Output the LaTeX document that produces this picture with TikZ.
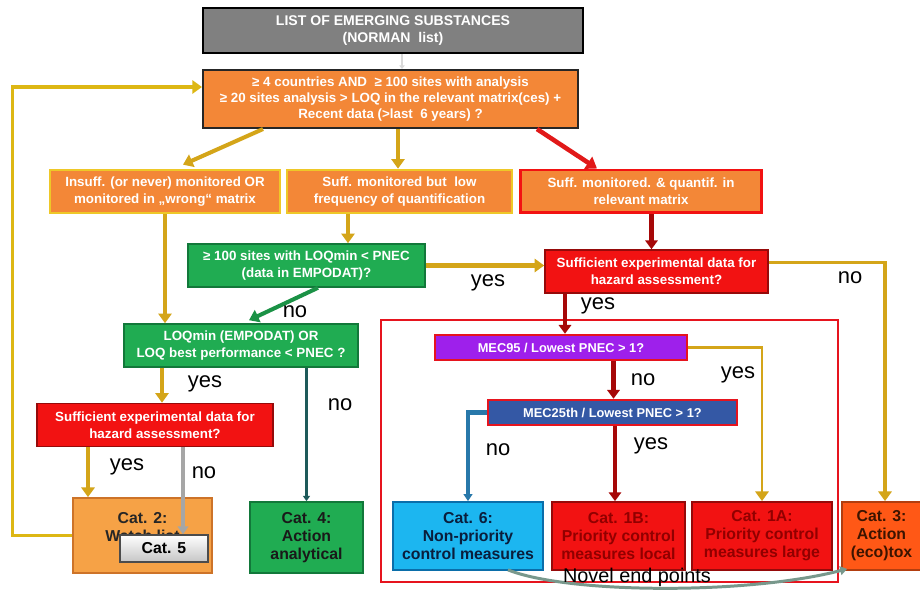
\documentclass[tikz,border=0pt]{standalone}
\usepackage{fontspec}
\setmainfont{Liberation Sans}
\usetikzlibrary{arrows.meta,calc}

\definecolor{boxgray}{RGB}{128,128,128}
\definecolor{orng}{RGB}{243,135,55}
\definecolor{goldline}{RGB}{212,165,25}
\definecolor{goldedge}{RGB}{238,200,40}
\definecolor{brightred}{RGB}{242,18,18}
\definecolor{deepred}{RGB}{150,10,10}
\definecolor{arrowred}{RGB}{225,25,25}
\definecolor{leafgreen}{RGB}{32,172,82}
\definecolor{edgegreen}{RGB}{18,120,58}
\definecolor{purplebox}{RGB}{158,32,235}
\definecolor{slatebox}{RGB}{52,88,165}
\definecolor{skycyan}{RGB}{28,182,240}
\definecolor{cyanedge}{RGB}{10,110,170}
\definecolor{catorange}{RGB}{246,162,70}
\definecolor{catorangeedge}{RGB}{205,115,40}
\definecolor{hotorange}{RGB}{255,88,22}
\definecolor{arrowteal}{RGB}{30,90,90}
\definecolor{pipeblue}{RGB}{40,120,170}
\definecolor{novelgreen}{RGB}{120,152,140}
\definecolor{framered}{RGB}{230,20,30}
\definecolor{catredtext}{RGB}{145,0,0}

\tikzset{
  box/.style={draw, rectangle, inner sep=1pt, align=center, text=white,
    font=\fontsize{7.6}{9.6}\selectfont\bfseries},
  catbox/.style={draw, rectangle, inner sep=1pt, align=center,
    font=\fontsize{9}{10.2}\selectfont\bfseries},
  lbl/.style={font=\fontsize{12.5}{14}\selectfont, text=black, inner sep=0pt},
  goldarrow/.style={draw=goldline, line width=2.3pt,
    -{Triangle[width=7.5pt,length=5.5pt]}},
  redarrow/.style={draw=arrowred, line width=2.6pt,
    -{Triangle[width=8pt,length=6pt]}},
  darkredarrow/.style={draw=deepred!85!red, line width=2.6pt,
    -{Triangle[width=7pt,length=5pt]}},
  greenarrow/.style={draw=leafgreen!85!black, line width=2.3pt,
    -{Triangle[width=7.5pt,length=5.5pt]}},
  tealarrow/.style={draw=arrowteal, line width=1.6pt,
    -{Triangle[width=4pt,length=3pt]}},
  bluearrow/.style={draw=pipeblue, line width=2.3pt,
    -{Triangle[width=5pt,length=4pt]}},
  silverarrow/.style={draw=gray!70, line width=2.8pt,
    -{Triangle[width=6pt,length=4.5pt]}},
  faintarrow/.style={draw=gray!30, line width=1.6pt,
    -{Triangle[width=3pt,length=2pt]}},
}

\begin{document}
\begin{tikzpicture}[x=0.02cm,y=-0.02cm]
\useasboundingbox (0,0) rectangle (920,590);
\clip (0,0) rectangle (920,590);
\fill[white] (0,0) rectangle (920,590);

% grouping frame for the risk-ratio branch
\draw[framered, line width=1.4pt] (381,320) rectangle (838,582);

% question boxes
\node[box, fill=boxgray, draw=black, line width=1.4pt, minimum width=7.6cm, minimum height=0.9cm,
  font=\fontsize{8}{9.6}\selectfont\bfseries] (top) at (393,30.5)
  {LIST OF EMERGING SUBSTANCES\\(NORMAN\ \ list)};
\node[box, fill=orng, draw=black!85, line width=1.2pt, minimum width=7.5cm, minimum height=1.16cm,
  font=\fontsize{7.6}{9}\selectfont\bfseries] (q1) at (390.5,99)
  {≥ 4 countries AND\ \ ≥ 100 sites with analysis\\
   ≥ 20 sites analysis > LOQ in the relevant matrix(ces) +\\
   Recent data (>last\ \ 6 years) ?};
\node[box, fill=orng, draw=goldedge, line width=1.5pt, minimum width=4.6cm, minimum height=0.86cm]
  (insuff) at (165,191.5) {Insuff. (or never) monitored OR\\monitored in „wrong“ matrix};
\node[box, fill=orng, draw=goldedge, line width=1.5pt, minimum width=4.5cm, minimum height=0.86cm]
  (low) at (399.5,191.5) {Suff. monitored but\ \ low\\frequency of quantification};
\node[box, fill=orng, draw=brightred, line width=1.7pt, minimum width=4.84cm, minimum height=0.86cm]
  (quant) at (641,191.5) {Suff. monitored. \& quantif. in\\relevant matrix};
\node[box, fill=leafgreen, draw=edgegreen, line width=0.9pt, minimum width=4.74cm, minimum height=0.86cm]
  (sites) at (306.5,265.5) {≥ 100 sites with LOQmin < PNEC\\(data in EMPODAT)?};
\node[box, fill=brightred, draw=deepred, line width=0.9pt, minimum width=4.46cm, minimum height=0.86cm]
  (sufR) at (656.5,271.5) {Sufficient experimental data for\\hazard assessment?};
\node[box, fill=leafgreen, draw=edgegreen, line width=0.9pt, minimum width=4.68cm, minimum height=0.86cm]
  (loq) at (241,345.5) {LOQmin (EMPODAT) OR\\LOQ best performance < PNEC ?};
\node[box, fill=purplebox, draw=framered, line width=1.4pt, minimum width=5.04cm, minimum height=0.5cm,
  font=\fontsize{7.3}{9}\selectfont\bfseries] (mec95) at (561,347.5) {MEC95 / Lowest PNEC > 1?};
\node[box, fill=slatebox, draw=framered, line width=1.4pt, minimum width=4.98cm, minimum height=0.5cm,
  font=\fontsize{7.3}{9}\selectfont\bfseries] (mec25) at (612.5,412.5) {MEC25th / Lowest PNEC > 1?};
\node[box, fill=brightred, draw=deepred, line width=0.9pt, minimum width=4.72cm, minimum height=0.86cm]
  (sufL) at (155,425) {Sufficient experimental data for\\hazard assessment?};

% category boxes
\node[catbox, fill=catorange, draw=catorangeedge, line width=1pt, minimum width=2.78cm, minimum height=1.5cm,
  text=black!85] (cat2) at (142.5,535.5) {Cat. 2:\\Watch list\\~};
% Cat. 5 sits over the lower part of Cat. 2
\node[catbox, top color=white, bottom color=gray!45, draw=gray!60!black, line width=0.8pt,
  minimum width=1.76cm, minimum height=0.54cm, text=black] (cat5) at (164,548.5) {Cat. 5};
\node[catbox, fill=leafgreen, draw=edgegreen, line width=1pt, minimum width=2.26cm, minimum height=1.42cm,
  text=black!90] (cat4) at (306.5,537.5) {Cat. 4:\\Action\\analytical};
\node[catbox, fill=skycyan, draw=cyanedge, line width=1pt, minimum width=3cm, minimum height=1.36cm,
  text={rgb,255:red,10;green,30;blue,60}] (cat6) at (468,536) {Cat. 6:\\Non-priority\\control measures};
\node[catbox, fill=brightred, draw=deepred, line width=1pt, minimum width=2.66cm, minimum height=1.36cm,
  text=catredtext] (cat1b) at (618.5,536) {Cat. 1B:\\Priority control\\measures local};
\node[catbox, fill=brightred, draw=deepred, line width=1pt, minimum width=2.8cm, minimum height=1.36cm,
  text=catredtext] (cat1a) at (762,536) {Cat. 1A:\\Priority control\\measures large};
\node[catbox, fill=hotorange, draw=hotorange!70!black, line width=1pt, minimum width=1.58cm, minimum height=1.36cm,
  text={rgb,255:red,60;green,20;blue,0}] (cat3) at (881.5,536) {Cat. 3:\\Action\\(eco)tox};

% ports for connectors that leave or enter off-centre
\coordinate (topout) at ($(top.south)+(9,0)$);
\coordinate (q1a) at ($(q1.south)+(-127.5,0)$);
\coordinate (q1b) at ($(q1.south)+(7.5,0)$);
\coordinate (q1c) at ($(q1.south)+(146.5,0)$);
\coordinate (insuffin) at ($(insuff.north)+(18,-4)$);
\coordinate (quantin) at ($(quant.north)+(-44,0)$);
\coordinate (lowout) at ($(low.south)+(-51.5,0)$);
\coordinate (quantout) at ($(quant.south)+(10.5,0)$);
\coordinate (sitesout) at ($(sites.south)+(11.5,0)$);
\coordinate (loqin) at ($(loq.north)+(8,-3)$);
\coordinate (sufRdown) at ($(sufR.south)+(-91.5,0)$);
\coordinate (sufRside) at ($(sufR.east)+(0,-9)$);
\coordinate (cat3in) at ($(cat3.north)+(3.5,0)$);
\coordinate (mec95down) at ($(mec95.south)+(52.5,0)$);
\coordinate (mec25down) at ($(mec25.south)+(2.5,0)$);
\coordinate (loqdown) at ($(loq.south)+(-79,0)$);
\coordinate (sufLa) at ($(sufL.south)+(-67,0)$);
\coordinate (sufLb) at ($(sufL.south)+(28,0)$);
\coordinate (q1loop) at ($(q1.west)+(0,-12)$);
\coordinate (novelfrom) at ($(cat6.south)+(40,-1)$);
\coordinate (novelto) at ($(cat3.south west)+(6,-2)$);

% connectors
\draw[faintarrow] (topout) -- (topout |- q1.north);
\draw[goldarrow] (q1a) -- (insuffin);
\draw[goldarrow] (q1b) -- (q1b |- low.north);
\draw[redarrow] (q1c) -- (quantin);
\draw[goldarrow] (insuff.south) -- (insuff.south |- loq.north);
\draw[goldarrow] (lowout) -- (lowout |- sites.north);
\draw[darkredarrow] (quantout) -- (quantout |- sufR.north);
\draw[goldarrow] (sites.east) -- (sites.east -| sufR.west);
\draw[greenarrow] (sitesout) -- (loqin);
\draw[darkredarrow] (sufRdown) -- (sufRdown |- mec95.north);
\draw[goldarrow, line width=1.8pt] (sufRside) -| (cat3in);
\draw[darkredarrow] (mec95down) -- (mec95down |- mec25.north);
\draw[goldarrow, line width=1.6pt] (mec95.east) -| (cat1a.north);
\draw[bluearrow] (mec25.west) -| (cat6.north);
\draw[darkredarrow] (mec25down) -- (mec25down |- cat1b.north);
\draw[goldarrow] (loqdown) -- (loqdown |- sufL.north);
\draw[tealarrow] (cat4.north |- loq.south) -- (cat4.north);
\draw[goldarrow] (sufLa) -- (sufLa |- cat2.north);
\draw[silverarrow] (sufLb) -- (sufLb |- cat5.north);
\draw[goldarrow, draw=goldline!80!yellow, line width=1.8pt] (cat2.west) -- ++(-60,0) |- (q1loop);
\draw[draw=novelgreen, line width=1.7pt, -{Triangle[width=5pt,length=4pt]}]
  (novelfrom) .. controls ($(novelfrom)+(60,24)$) and ($(novelto)+(-100,26)$) .. (novelto);

% branch labels
\node[lbl] (l1) at (488,283) {yes};
\node[lbl] (l2) at (295,312) {no};
\node[lbl] (l3) at (598,306) {yes};
\node[lbl] (l4) at (850,278) {no};
\node[lbl] (l5) at (643,380) {no};
\node[lbl] (l6) at (738,375) {yes};
\node[lbl] (l7) at (205,384) {yes};
\node[lbl] (l8) at (340,405) {no};
\node[lbl] (l9) at (498,450) {no};
\node[lbl] (l10) at (651,446) {yes};
\node[lbl] (l11) at (127,467) {yes};
\node[lbl] (l12) at (204,473) {no};
\node[font=\fontsize{11.3}{13}\selectfont, inner sep=0pt, anchor=base] (novel) at (637,583) {Novel end points};
\end{tikzpicture}
\end{document}
